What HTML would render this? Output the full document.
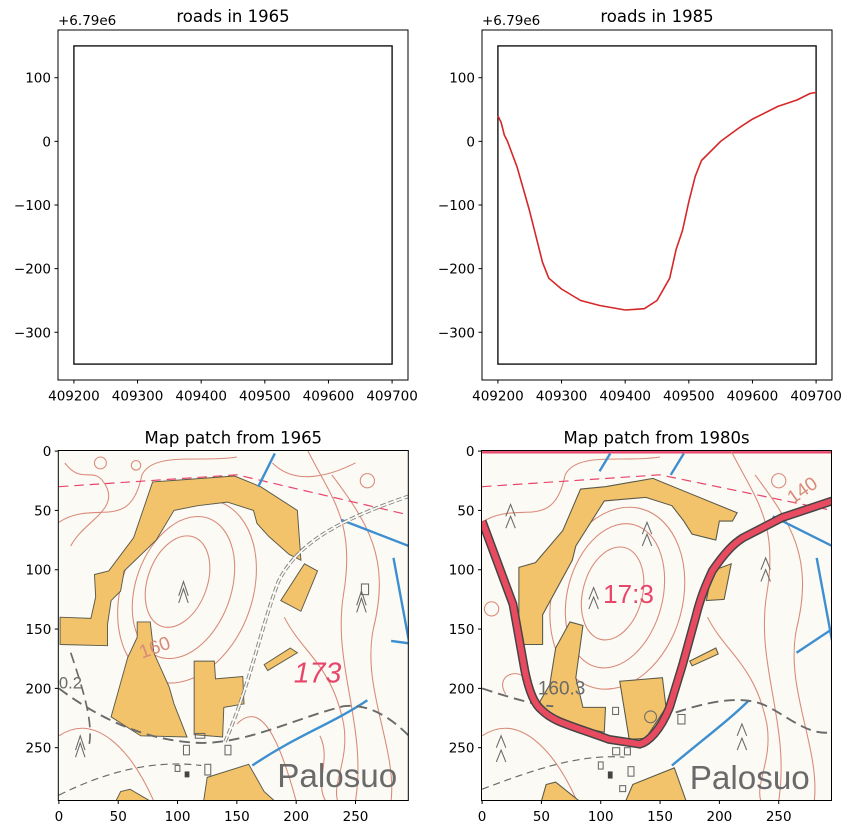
<!DOCTYPE html>
<html><head><meta charset="utf-8"><style>
html,body{margin:0;padding:0;background:#fff;}
svg{display:block;font-family:"DejaVu Sans","Liberation Sans",sans-serif;}
</style></head><body>
<svg id="fig" width="853" height="834" viewBox="0 0 853 834" xmlns="http://www.w3.org/2000/svg">
<rect width="853" height="834" fill="#fff"/>
<g id="top"></g>
<g id="bottom"></g>
</svg>
<script>
// ---- data ----
const roadX = [409200,409205,409210,409215,409230,409240,409250,409260,409270,409280,409300,409330,409360,409400,409430,409450,409470,409480,409490,409500,409510,409520,409550,409580,409600,409640,409670,409690,409700];
const roadY = [40,30,10,0,-40,-75,-110,-150,-190,-215,-232,-250,-258,-265,-263,-250,-215,-170,-140,-95,-55,-30,0,22,35,55,65,75,77];
const boundsX = [409200,409700];
const boundsY = [-350,150];
const topXTicks = [409200,409300,409400,409500,409600,409700];
const topYTicks = [-300,-200,-100,0,100];
const imgTicks = [0,50,100,150,200,250];

const FS=13.5, TFS=16.5;
const NS="http://www.w3.org/2000/svg";
function el(tag,attrs,parent,text){const e=document.createElementNS(NS,tag);for(const k in attrs)e.setAttribute(k,attrs[k]);if(text!==undefined)e.textContent=text;(parent||document.getElementById('fig')).appendChild(e);return e;}

function topPanel(left,title,withRoad,name){
  const g=el('g',{},document.getElementById('top'));
  
  
  const T=30,W=350,H=350;
  const sx=x=>left+(x-409175)*W/550;
  const sy=y=>T+(175-y)*H/550;
  el('rect',{x:left,y:T,width:W,height:H,fill:'#fff',stroke:'#000','stroke-width':1},g);
  const b=el('rect',{x:sx(boundsX[0]),y:sy(boundsY[1]),width:sx(boundsX[1])-sx(boundsX[0]),height:sy(boundsY[0])-sy(boundsY[1]),fill:'none',stroke:'#000','stroke-width':1.3},g);
  
  
  if(withRoad){
    const d=roadX.map((x,i)=>(i?'L':'M')+sx(x).toFixed(1)+','+sy(roadY[i]).toFixed(1)).join(' ');
    const p=el('path',{d:d,fill:'none',stroke:'#d62728','stroke-width':1.6,'stroke-linejoin':'round'},g);
    
    
  }
  topXTicks.forEach(v=>{const x=sx(v);el('line',{x1:x,x2:x,y1:T+H,y2:T+H+3.5,stroke:'#000'},g);
    const t=el('text',{x:x,y:T+H+20.5,'text-anchor':'middle','font-size':FS},g,String(v));
    
    });
  topYTicks.forEach(v=>{const y=sy(v);el('line',{x1:left-3.5,x2:left,y1:y,y2:y,stroke:'#000'},g);
    const t=el('text',{x:left-7,y:y+5,'text-anchor':'end','font-size':FS},g,v<0?'\u2212'+(-v):String(v));
    
    });
  const o=el('text',{x:left,y:T-5,'font-size':FS},g,'+6.79e6');
  
  
  const tt=el('text',{x:left+W/2,y:T-8,'text-anchor':'middle','font-size':TFS},g,title);
  
  
}
topPanel(58,'roads in 1965',false,'roads-1965-panel');
topPanel(482,'roads in 1985',true,'roads-1985-panel');

const Y='#f3c36c', YS='#5a5a48', C='#d98a78', P='#e8456a', BL='#3d8fd0', G='#6a6a6a';
function poly(pts){return pts.map(p=>p.join(',')).join(' ');}
const map1=`
<rect x="-0.5" y="-0.5" width="295" height="295" fill="#fbfaf5"/>
<g fill="none" stroke="${C}" stroke-width="0.9">
<ellipse cx="100" cy="110" rx="25" ry="40" transform="rotate(20 100 110)"/>
<ellipse cx="105" cy="115" rx="40" ry="62" transform="rotate(20 105 115)"/>
<ellipse cx="108" cy="118" rx="55" ry="80" transform="rotate(20 108 118)"/>
<path d="M0,60 C30,40 60,70 70,20 C80,0 120,10 150,5"/>
<path d="M5,10 C20,30 30,10 40,30 C50,50 20,60 10,80"/>
<path d="M210,0 C230,40 250,60 240,120 C230,180 260,230 250,295"/>
<path d="M230,20 C260,60 280,90 265,150 C255,200 285,250 280,295"/>
<path d="M180,10 C200,30 230,20 250,10"/>
<path d="M190,140 C205,170 230,180 240,230 C245,260 230,280 235,295"/>
<path d="M0,240 C30,220 60,250 80,295"/>
<path d="M150,230 C170,210 185,240 200,295"/>
<path d="M220,240 C230,260 215,280 225,295"/>
<circle cx="260" cy="25" r="6"/><circle cx="35" cy="10" r="5"/><circle cx="65" cy="12" r="4"/>
</g>
<path d="M0,30 L150,20 L300,55" fill="none" stroke="${P}" stroke-width="1" stroke-dasharray="8,5"/>
<polygon points="${poly([[79,26],[93,25],[148,21],[170,30],[201,50],[204,92],[194,87],[177,72],[167,61],[164,50],[142,43],[117,46],[97,50],[82,75],[55,101],[52,118],[44,126],[41,146],[41,164],[1,163],[1,140],[27,141],[31,123],[30,104],[42,101],[63,73]])}" fill="${Y}" stroke="${YS}" stroke-width="0.8"/>
<polygon points="${poly([[66,144],[77,144],[80,170],[93,199],[97,213],[108,241],[69,240],[44,224],[58,174],[66,157]])}" fill="${Y}" stroke="${YS}" stroke-width="0.8"/>
<polygon points="${poly([[114,177],[131,177],[132,192],[155,190],[156,213],[139,216],[138,241],[114,239]])}" fill="${Y}" stroke="${YS}" stroke-width="0.8"/>
<polygon points="${poly([[207,95],[218,101],[204,135],[187,126]])}" fill="${Y}" stroke="${YS}" stroke-width="0.8"/>
<polygon points="${poly([[173,180],[195,166],[201,170],[176,185]])}" fill="${Y}" stroke="${YS}" stroke-width="0.8"/>
<polygon points="${poly([[125,275],[160,264],[173,287],[182,295],[122,295]])}" fill="${Y}" stroke="${YS}" stroke-width="0.8"/>
<polygon points="${poly([[52,287],[60,285],[77,295],[48,295]])}" fill="${Y}" stroke="${YS}" stroke-width="0.8"/>
<g fill="none" stroke="${BL}" stroke-width="2">
<path d="M168,30 L182,2"/><path d="M238,58 L295,80"/><path d="M282,90 L295,160"/><path d="M280,160 L295,162"/>
<path d="M163,265 C200,240 230,230 260,210"/>
</g>
<path d="M0,200 C40,230 80,245 120,246 C160,246 200,225 240,215 C265,212 285,230 295,240" fill="none" stroke="${G}" stroke-width="1.6" stroke-dasharray="9,5"/>
<path d="M10,170 C20,200 30,230 25,250" fill="none" stroke="${G}" stroke-width="1.4" stroke-dasharray="9,5"/>
<path d="M0,290 C40,270 80,260 120,265" fill="none" stroke="${G}" stroke-width="1" stroke-dasharray="6,4"/>
<path d="M140,245 C160,200 170,150 185,110 C200,80 230,60 295,38" fill="none" stroke="#888" stroke-width="3" stroke-dasharray="5,2"/>
<path d="M140,245 C160,200 170,150 185,110 C200,80 230,60 295,38" fill="none" stroke="#fbfaf5" stroke-width="1.4"/>
<g fill="none" stroke="${G}" stroke-width="0.9">
<path d="M101,122 L105,110 L109,122 M101,128 L105,116 L109,128"/>
<path d="M251,130 L255,118 L259,130 M251,136 L255,124 L259,136"/>
<path d="M14,252 L18,240 L22,252 M14,258 L18,246 L22,258"/>
<rect x="115" y="238" width="8" height="4"/><rect x="105" y="248" width="5" height="8"/><rect x="140" y="248" width="5" height="8"/>
<rect x="98" y="265" width="4" height="5"/><rect x="123" y="264" width="5" height="9"/><rect x="255" y="112" width="6" height="9"/>
</g>
<rect x="106" y="270" width="4" height="5" fill="#444"/>
<text x="198" y="195" font-size="24" fill="${P}" font-style="italic" font-family="Liberation Sans,sans-serif">173</text>
<text x="70" y="175" font-size="16" fill="${C}" transform="rotate(-20 70 175)" font-family="Liberation Sans,sans-serif">160</text>
<text x="0" y="200" font-size="14" fill="${G}" font-family="Liberation Sans,sans-serif">0.2</text>
<text x="184" y="283" font-size="28" fill="${G}" font-family="Liberation Sans,sans-serif">Palosuo</text>`;

const map2=`
<rect x="-0.5" y="-0.5" width="295" height="295" fill="#fbfaf5"/>
<line x1="0" y1="1" x2="295" y2="1" stroke="${P}" stroke-width="2"/>
<g fill="none" stroke="${C}" stroke-width="0.9">
<ellipse cx="110" cy="120" rx="25" ry="40" transform="rotate(15 110 120)"/>
<ellipse cx="112" cy="122" rx="40" ry="62" transform="rotate(15 112 122)"/>
<ellipse cx="114" cy="124" rx="55" ry="78" transform="rotate(15 114 124)"/>
<path d="M0,60 C30,40 60,70 70,20 C80,0 120,10 150,5"/>
<path d="M210,0 C230,40 250,60 240,120 C230,180 260,230 250,295"/>
<path d="M230,20 C260,60 280,90 265,150 C255,200 285,250 280,295"/>
<path d="M190,140 C205,170 230,180 240,230 C245,260 230,280 235,295"/>
<path d="M0,240 C30,220 60,250 80,295"/>
<path d="M20,205 C10,190 30,180 40,195"/>
<circle cx="250" cy="25" r="6"/><circle cx="8" cy="133" r="6"/>
</g>
<path d="M0,30 L150,20 L295,50" fill="none" stroke="${P}" stroke-width="1" stroke-dasharray="8,5"/>
<polygon points="${poly([[83,32],[104,30],[144,23],[166,32],[215,52],[211,59],[200,59],[197,75],[177,70],[170,59],[160,46],[138,39],[103,42],[79,80],[76,92],[51,138],[51,163],[31,163],[31,98],[45,94],[68,67]])}" fill="${Y}" stroke="${YS}" stroke-width="0.9"/>
<polygon points="${poly([[74,144],[85,147],[79,191],[85,216],[104,216],[103,237],[71,230],[47,214],[57,197],[62,166]])}" fill="${Y}" stroke="${YS}" stroke-width="0.9"/>
<polygon points="${poly([[116,194],[152,191],[155,216],[138,242],[124,243]])}" fill="${Y}" stroke="${YS}" stroke-width="0.9"/>
<polygon points="${poly([[194,101],[210,95],[204,125],[189,126]])}" fill="${Y}" stroke="${YS}" stroke-width="0.9"/>
<polygon points="${poly([[175,177],[197,166],[199,171],[177,181]])}" fill="${Y}" stroke="${YS}" stroke-width="0.9"/>
<polygon points="${poly([[127,281],[162,267],[172,295],[121,295]])}" fill="${Y}" stroke="${YS}" stroke-width="0.9"/>
<polygon points="${poly([[54,281],[62,279],[82,295],[50,295]])}" fill="${Y}" stroke="${YS}" stroke-width="0.9"/>
<g fill="none" stroke="${BL}" stroke-width="2">
<path d="M99,17 L108,2"/><path d="M159,20 L170,2"/><path d="M245,55 L295,80"/><path d="M282,90 L295,160"/><path d="M265,170 L295,150"/>
<path d="M160,265 C190,240 210,225 225,210"/>
</g>
<path d="M0,200 C30,210 50,215 60,215 M150,225 C190,210 220,205 240,215 C260,225 275,240 295,237" fill="none" stroke="${G}" stroke-width="1.6" stroke-dasharray="9,5"/>
<path d="M0,285 C40,270 80,255 120,258" fill="none" stroke="${G}" stroke-width="1" stroke-dasharray="6,4"/>
<path d="M0,59 L26,129 L36,185 C40,205 45,214 50,218 C60,228 71,230 107,243 L133,247 C140,245 150,236 158,216 L169,180 L180,140 C185,120 190,110 194,101 C205,85 212,78 220,73 L253,56 L295,42" fill="none" stroke="#444" stroke-width="7.5"/>
<path d="M0,59 L26,129 L36,185 C40,205 45,214 50,218 C60,228 71,230 107,243 L133,247 C140,245 150,236 158,216 L169,180 L180,140 C185,120 190,110 194,101 C205,85 212,78 220,73 L253,56 L295,42" fill="none" stroke="#e84a60" stroke-width="5"/>
<g fill="none" stroke="${G}" stroke-width="0.9">
<path d="M90,125 L94,115 L98,125 M90,133 L94,123 L98,133"/>
<path d="M135,70 L139,60 L143,70 M135,80 L139,70 L143,80"/>
<path d="M235,100 L239,90 L243,100 M235,110 L239,100 L243,110"/>
<path d="M215,240 L219,230 L223,240 M215,252 L219,242 L223,252"/>
<path d="M12,250 L16,240 L20,250 M12,262 L16,252 L20,262"/>
<path d="M20,55 L24,45 L28,55 M20,65 L24,55 L28,65"/>
<rect x="110" y="216" width="5" height="6"/><rect x="165" y="222" width="6" height="8"/><rect x="110" y="250" width="6" height="6"/><rect x="120" y="250" width="5" height="6"/>
<rect x="98" y="262" width="4" height="6"/><rect x="123" y="266" width="5" height="8"/><rect x="116" y="282" width="5" height="5"/>
<circle cx="142" cy="224" r="5"/>
</g>
<rect x="106" y="270" width="4" height="6" fill="#444"/>
<text x="102" y="128" font-size="22" fill="${P}" font-family="Liberation Sans,sans-serif">17:3</text>
<text x="47" y="205" font-size="16" fill="${G}" font-family="Liberation Sans,sans-serif">160.3</text>
<text x="262" y="45" font-size="16" fill="${C}" transform="rotate(-35 262 45)" font-family="Liberation Sans,sans-serif">140</text>
<text x="175" y="285" font-size="28" fill="${G}" font-family="Liberation Sans,sans-serif">Palosuo</text>`;

function mapPanel(left,title,content,name){
  const g=el('g',{},document.getElementById('bottom'));
  
  
  const T=450.5,S=350;
  const k=S/295;
  const inner=el('svg',{x:left,y:T,width:S,height:S,viewBox:'-0.5 -0.5 295 295',preserveAspectRatio:'none'},g);
  inner.innerHTML=content;
  
  
  el('rect',{x:left,y:T,width:S,height:S,fill:'none',stroke:'#000','stroke-width':1},g);
  imgTicks.forEach(v=>{const x=left+(v+0.5)*k;el('line',{x1:x,x2:x,y1:T+S,y2:T+S+3.5,stroke:'#000'},g);
    const t=el('text',{x:x,y:T+S+20.5,'text-anchor':'middle','font-size':FS},g,String(v));
    
    
    const y=T+(v+0.5)*k;el('line',{x1:left-3.5,x2:left,y1:y,y2:y,stroke:'#000'},g);
    const u=el('text',{x:left-7,y:y+5,'text-anchor':'end','font-size':FS},g,String(v));
    
    });
  const tt=el('text',{x:left+S/2,y:T-7,'text-anchor':'middle','font-size':TFS},g,title);
  
  
}
mapPanel(58.3,'Map patch from 1965',map1,'map-1965-panel');
mapPanel(481.5,'Map patch from 1980s',map2,'map-1980s-panel');
</script>
</body></html>
